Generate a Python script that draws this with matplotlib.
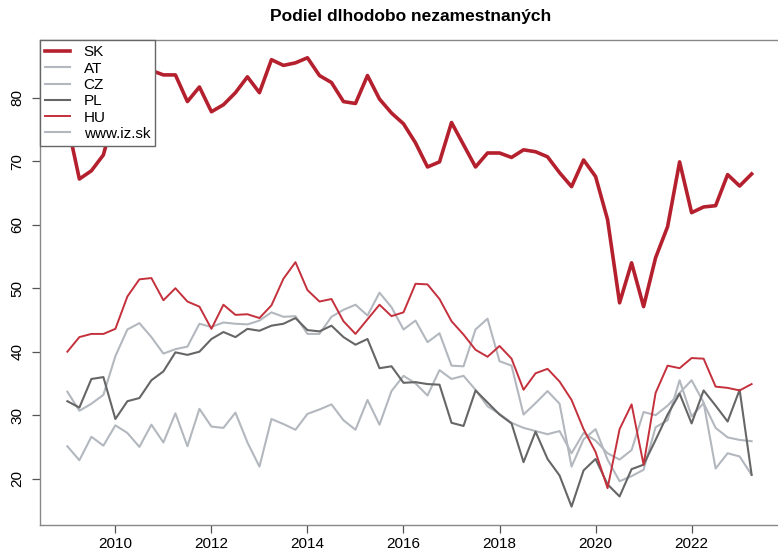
import numpy as np
import matplotlib
matplotlib.use('Agg')
import matplotlib.pyplot as plt

# quarterly data, 2009 Q1 .. 2023 Q2
years = 2009 + np.arange(58) / 4.0

sk = [76.0, 67.2, 68.5, 71.0, 78.0, 84.5, 85.0, 84.3, 83.6, 83.6,
      79.4, 81.7, 77.8, 78.9, 80.8, 83.3, 80.8, 86.0, 85.1, 85.5,
      86.3, 83.5, 82.4, 79.4, 79.1, 83.5, 79.8, 77.6, 75.9, 72.9,
      69.1, 69.9, 76.1, 72.6, 69.1, 71.3, 71.3, 70.6, 71.8, 71.5,
      70.7, 68.2, 66.0, 70.2, 67.6, 60.8, 47.7, 54.0, 47.1, 54.8,
      59.7, 69.9, 61.9, 62.8, 63.0, 67.9, 66.1, 68.0]

at = [33.7, 30.7, 31.8, 33.2, 39.3, 43.5, 44.5, 42.3, 39.7, 40.4,
      40.8, 44.4, 43.9, 44.6, 44.4, 44.3, 44.9, 46.2, 45.5, 45.6,
      42.8, 42.8, 45.5, 46.6, 47.4, 45.7, 49.3, 47.0, 43.5, 44.9,
      41.5, 42.9, 37.8, 37.7, 43.5, 45.2, 38.5, 37.8, 30.1, 31.9,
      33.8, 31.8, 21.9, 26.2, 27.8, 23.0, 19.6, 20.4, 21.4, 28.1,
      29.2, 35.5, 29.8, 31.9, 28.0, 26.5, 26.1, 25.9]

cz = [25.1, 22.9, 26.6, 25.2, 28.4, 27.2, 25.0, 28.5, 25.7, 30.3,
      25.1, 31.0, 28.2, 28.0, 30.4, 25.7, 21.9, 29.4, 28.6, 27.7,
      30.2, 30.9, 31.7, 29.2, 27.7, 32.4, 28.5, 33.8, 36.2, 35.0,
      33.1, 37.1, 35.7, 36.2, 34.0, 31.4, 30.2, 28.8, 28.0, 27.5,
      27.0, 27.5, 24.0, 27.2, 26.0, 24.0, 23.0, 24.5, 30.5, 30.0,
      31.5, 33.5, 35.5, 32.0, 21.6, 24.0, 23.5, 20.6]

pl = [32.2, 31.2, 35.7, 36.0, 29.4, 32.2, 32.7, 35.5, 36.9, 39.9,
      39.5, 40.0, 42.0, 43.1, 42.3, 43.6, 43.3, 44.1, 44.4, 45.3,
      43.4, 43.2, 44.1, 42.3, 41.1, 42.0, 37.4, 37.7, 35.1, 35.2,
      34.9, 34.8, 28.8, 28.3, 33.9, 32.0, 30.1, 28.7, 22.6, 27.4,
      23.1, 20.5, 15.6, 21.3, 23.1, 19.1, 17.2, 21.5, 22.2, 26.1,
      30.1, 33.4, 28.7, 33.9, 31.5, 29.0, 34.0, 20.6]

hu = [40.0, 42.3, 42.8, 42.8, 43.6, 48.7, 51.4, 51.6, 48.1, 50.0,
      47.9, 47.1, 43.6, 47.4, 45.8, 45.9, 45.3, 47.3, 51.5, 54.1,
      49.7, 47.9, 48.3, 44.8, 42.8, 45.1, 47.4, 45.6, 46.2, 50.7,
      50.6, 48.3, 44.8, 42.7, 40.3, 39.2, 40.9, 38.9, 34.0, 36.6,
      37.3, 35.3, 32.4, 27.8, 24.2, 18.5, 27.8, 31.7, 22.2, 33.5,
      37.8, 37.4, 39.0, 38.9, 34.5, 34.3, 33.9, 34.9]

labels = ['SK', 'AT', 'CZ', 'PL', 'HU', 'www.iz.sk']

red_dark = '#b5202e'
red_thin = '#c4303c'
light = '#b3b8bf'
dark = '#666666'

plt.rcParams['font.family'] = ['Liberation Sans', 'DejaVu Sans']

fig = plt.figure(figsize=(7.78, 5.55), dpi=100)
ax = fig.add_axes([40 / 778, 1 - 525 / 555, 739 / 778, 485 / 555])

ax.plot(years, cz, color=light, lw=1.5)
ax.plot(years, at, color=light, lw=1.5)
ax.plot(years, pl, color=dark, lw=1.5)
ax.plot(years, hu, color=red_thin, lw=1.4)
ax.plot(years, sk, color=red_dark, lw=2.6)

ax.set_xlim(2008.43, 2023.82)
ax.set_ylim(12.7, 89.1)
ax.set_xticks([2010, 2012, 2014, 2016, 2018, 2020, 2022])
ax.set_yticks([20, 30, 40, 50, 60, 70, 80])
ax.tick_params(axis='both', labelsize=11, color='#555555', length=6, width=0.9)
ax.tick_params(axis='x', pad=2.5)
ax.tick_params(axis='y', pad=5)
for lab in ax.get_yticklabels():
    lab.set_rotation(90)
    lab.set_va('center')

for side in ['left', 'bottom', 'top']:
    ax.spines[side].set_color('#888888')
    ax.spines[side].set_linewidth(1.0)
ax.spines['right'].set_visible(False)

handles = [
    plt.Line2D([], [], color=red_dark, lw=2.6),
    plt.Line2D([], [], color=light, lw=1.5),
    plt.Line2D([], [], color=light, lw=1.5),
    plt.Line2D([], [], color=dark, lw=1.5),
    plt.Line2D([], [], color=red_thin, lw=1.4),
    plt.Line2D([], [], color=light, lw=1.5),
]
leg = ax.legend(handles, labels, loc='upper left', bbox_to_anchor=(0, 1),
                fontsize=11, frameon=True, fancybox=False, borderaxespad=0,
                handlelength=1.6, handletextpad=0.9, labelspacing=0.15,
                borderpad=0.35)
leg.get_frame().set_edgecolor('#666666')
leg.get_frame().set_linewidth(1.0)
leg.get_frame().set_alpha(1.0)

fig.text(411 / 778, 1 - 17 / 555, 'Podiel dlhodobo nezamestnaných', ha='center',
         va='center', fontsize=12.5, fontweight='bold')

fig.savefig('out.png', dpi=100)
